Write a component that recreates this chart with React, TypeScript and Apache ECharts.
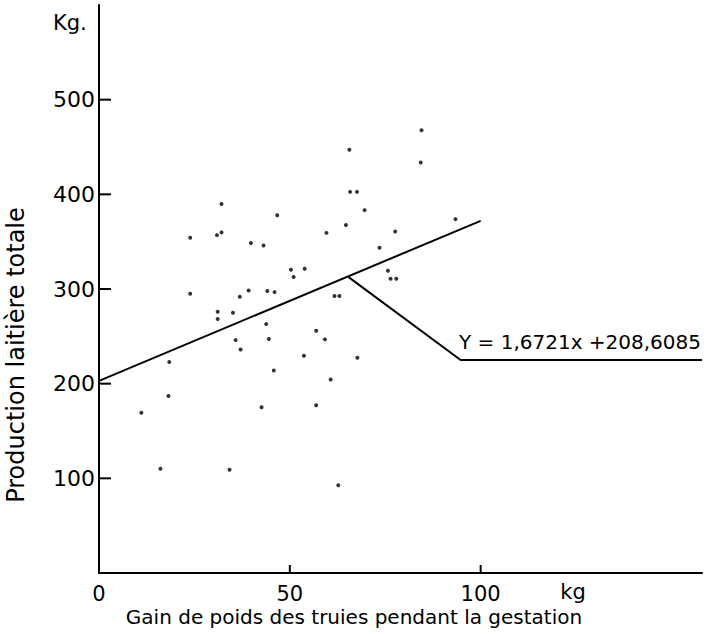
import React, { useEffect, useRef } from "react";
import * as echarts from "echarts";

// Gain de poids (kg) during gestation
const gain = [
  84.5, 65.6, 84.3, 65.8, 67.6, 69.6, 64.7, 59.6, 77.6, 93.4,
  73.5, 53.9, 75.7, 76.4, 77.9, 61.7, 63.0, 32.1, 46.7, 23.9,
  30.9, 32.1, 39.8, 43.1, 50.3, 51.0, 23.9, 39.2, 36.9, 44.1,
  46.0, 31.1, 31.1, 35.1, 43.8, 35.8, 37.1, 44.5, 56.9, 59.2,
  53.7, 67.7, 18.4, 45.8, 60.7, 18.2, 11.1, 42.6, 56.9, 16.1,
  34.2, 62.7,
];
// Production laitière totale (kg)
const production = [
  467.8, 447, 433.7, 402.6, 402.6, 383.3, 367.5, 359.3, 360.8, 373.8,
  343.5, 321.3, 319.2, 310.8, 310.8, 292.5, 292.5, 389.7, 378, 354.1,
  356.9, 359.8, 348.5, 346, 320.3, 312.6, 294.9, 298.5, 291.8, 297.8,
  296.7, 275.9, 268.2, 274.9, 262.9, 246, 236.2, 247.1, 255.9, 246.8,
  229.5, 227.3, 222.8, 214, 204.5, 186.9, 169.3, 175, 177.1, 110.1,
  109.1, 92.6,
];
const regressionX = [0, 100];
const regressionY = [203, 372];
const calloutX = [65.4, 94.75, 158];
const calloutY = [312.6, 225, 225];
const yTickValues = [100, 200, 300, 400, 500];
const xTickValues = [50, 100];
const xLabelValues = [0, 50, 100];
const equationText = "Y = 1,6721x +208,6085";

const FONT = "DejaVu Sans";

export default function App() {
  const ref = useRef<HTMLDivElement>(null);
  useEffect(() => {
    if (!ref.current) return;
    const chart = echarts.init(ref.current, undefined, { renderer: "svg" });
    const scatterData = gain.map((g, i) => [g, production[i]]);
    const regData = regressionX.map((x, i) => [x, regressionY[i]]);
    const callData = calloutX.map((x, i) => [x, calloutY[i]]);
    // tick data: [x, y, dx, dy] (dx/dy = inward tick length in px)
    const tickData = [
      ...yTickValues.map((v) => [0, v, 12, 0]),
      ...xTickValues.map((v) => [v, 0, 0, -8]),
    ];
    chart.setOption({
      animation: false,
      backgroundColor: "#ffffff",
      grid: { left: 99, right: 5, top: 5, bottom: 61 },
      xAxis: {
        type: "value",
        min: 0,
        max: 158,
        interval: 50,
        splitLine: { show: false },
        axisLine: { show: true, lineStyle: { color: "#000", width: 2 } },
        axisTick: { show: false },
        axisLabel: {
          customValues: xLabelValues,
          color: "#000",
          fontSize: 21,
          fontFamily: FONT,
          margin: 10,
        },
      },
      yAxis: {
        type: "value",
        min: 0,
        max: 600,
        interval: 100,
        splitLine: { show: false },
        axisLine: { show: true, lineStyle: { color: "#000", width: 2 } },
        axisTick: { show: false },
        axisLabel: {
          customValues: yTickValues,
          color: "#000",
          fontSize: 22,
          fontFamily: FONT,
          margin: 4,
        },
      },
      series: [
        {
          type: "scatter",
          data: scatterData,
          symbol: "circle",
          symbolSize: 4,
          itemStyle: { color: "#000" },
        },
        {
          type: "custom",
          data: tickData,
          clip: false,
          z: 10,
          renderItem: (params: any, api: any) => {
            const p = api.coord([api.value(0), api.value(1)]);
            return {
              type: "line",
              shape: {
                x1: p[0],
                y1: p[1],
                x2: p[0] + api.value(2),
                y2: p[1] + api.value(3),
              },
              style: { stroke: "#000", lineWidth: 2 },
            };
          },
        },
        {
          type: "line",
          data: regData,
          symbol: "none",
          lineStyle: { color: "#000", width: 2 },
        },
        {
          type: "line",
          data: callData,
          symbol: "none",
          lineStyle: { color: "#000", width: 2 },
        },
      ],
      graphic: [
        {
          type: "text",
          left: 53,
          top: 12,
          style: { text: "Kg.", fontSize: 21, fontFamily: FONT, fill: "#000" },
        },
        {
          type: "text",
          x: 573,
          y: 592,
          style: {
            text: "kg",
            fontSize: 21,
            fontFamily: FONT,
            fill: "#000",
            textAlign: "center",
            textVerticalAlign: "middle",
          },
        },
        {
          type: "text",
          x: 354,
          y: 617,
          style: {
            text: "Gain de poids des truies pendant la gestation",
            fontSize: 20,
            fontFamily: FONT,
            fill: "#000",
            textAlign: "center",
            textVerticalAlign: "middle",
          },
        },
        {
          type: "text",
          x: 16,
          y: 355,
          rotation: Math.PI / 2,
          style: {
            text: "Production laitière totale",
            fontSize: 24,
            fontFamily: FONT,
            fill: "#000",
            textAlign: "center",
            textVerticalAlign: "middle",
          },
        },
        {
          type: "text",
          x: 580,
          y: 342,
          style: {
            text: equationText,
            fontSize: 20,
            fontFamily: FONT,
            fill: "#000",
            textAlign: "center",
            textVerticalAlign: "middle",
          },
        },
      ],
    });
    return () => chart.dispose();
  }, []);
  return (
    <div
      ref={ref}
      style={{ position: "absolute", left: 0, top: 0, width: 707, height: 634 }}
    />
  );
}
